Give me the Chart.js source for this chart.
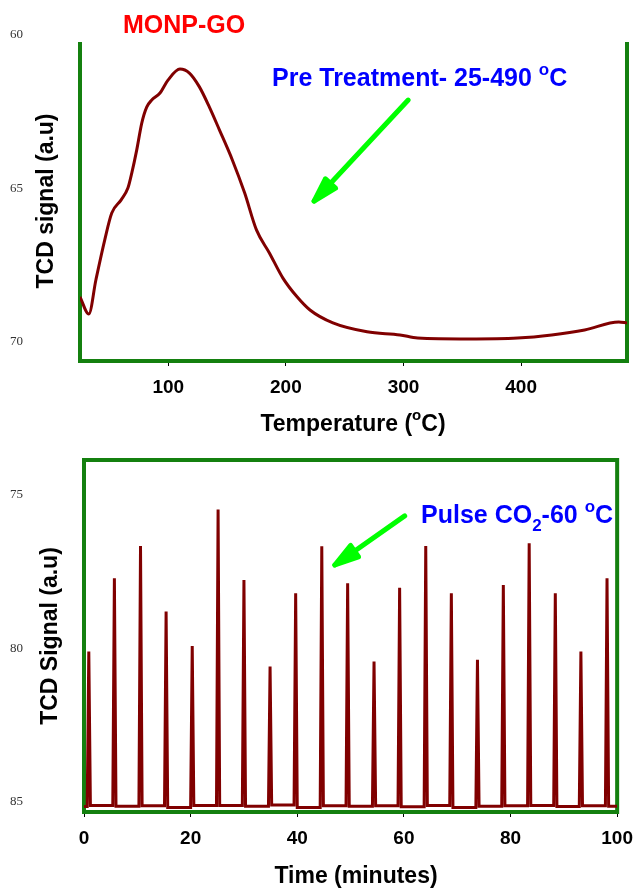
<!DOCTYPE html>
<html>
<head>
<meta charset="utf-8">
<script src="https://cdn.jsdelivr.net/npm/chart.js@4.4.0/dist/chart.umd.min.js"></script>
<style>
	html, body { margin: 0; padding: 0; background: #fff; }
	#wrap { position: relative; width: 643px; height: 889px; }
	canvas { position: absolute; left: 0; }
</style>
</head>
<body>
<div id="wrap">
	<canvas id="tpr" width="643" height="440" style="top:0"></canvas>
	<canvas id="pulse" width="643" height="449" style="top:440px"></canvas>
</div>
<script>
// --- top panel: pre treatment TCD trace ---
const tempC = [25, 32.5, 38.5, 46, 52, 60, 65.8, 69, 73.2, 77.5, 81.7, 86, 93, 99.8, 110,
	118, 126.5, 135, 143.5, 154.5, 165, 175, 186, 197.5, 209.5, 220.5, 240, 269, 297,
	312, 355, 397, 426, 454, 483, 490];
const tcdTpr = [68.53, 69.09, 67.98, 66.68, 65.80, 65.37, 64.98, 64.50, 63.75, 62.87, 62.35, 62.12, 61.89, 61.47, 61.11,
	61.24, 61.69, 62.35, 63.09, 64.07, 65.15, 66.35, 67.10, 67.92, 68.53, 68.96, 69.38, 69.67, 69.77,
	69.87, 69.90, 69.87, 69.77, 69.61, 69.35, 69.38];
const tempTicks = [100, 200, 300, 400];
const tprTicks = [60, 65, 70];

// --- bottom panel: CO2 pulses ---
const pulseTimes = [0.9, 5.7, 10.6, 15.4, 20.3, 25.15, 30.0, 34.9, 39.7, 44.6, 49.45,
	54.4, 59.2, 64.1, 68.9, 73.8, 78.65, 83.5, 88.4, 93.2, 98.1];
const pulsePeaks = [80.10, 77.71, 76.66, 78.80, 79.92, 75.47, 77.77, 80.59, 78.20, 76.67, 77.88,
	80.43, 78.02, 76.66, 78.20, 80.37, 77.93, 76.57, 78.20, 80.10, 77.71];
const baseLevels = [85.15, 85.12, 85.14, 85.13, 85.18, 85.12, 85.12, 85.14, 85.10, 85.18, 85.13,
	85.14, 85.13, 85.16, 85.12, 85.18, 85.14, 85.13, 85.12, 85.15, 85.13, 85.14];
const pulseHalfWidth = 0.3;
const timeTicks = [0, 20, 40, 60, 80, 100];
const pulseTicks = [75, 80, 85];

const SANS = 'Arial, "Liberation Sans", sans-serif';
const frameGreen = '#14800f';
const traceRed = '#800000';

function richText(ctx, x, y, parts, size, color, align) {
	const main = `bold ${size}px ${SANS}`;
	const small = `bold ${Math.round(size * 0.66)}px ${SANS}`;
	const items = parts.map(p => typeof p === 'string'
		? {t: p, f: main, dy: 0}
		: {t: p.t, f: small, dy: p.sup ? -size * 0.46 : size * 0.33});
	ctx.save();
	ctx.fillStyle = color;
	ctx.textBaseline = 'alphabetic';
	ctx.textAlign = 'left';
	let w = 0;
	items.forEach(it => { ctx.font = it.f; it.w = ctx.measureText(it.t).width; w += it.w; });
	let cx = align === 'center' ? x - w / 2 : x;
	items.forEach(it => { ctx.font = it.f; ctx.fillText(it.t, cx, y + it.dy); cx += it.w; });
	ctx.restore();
}

function arrow(ctx, x0, y0, x1, y1) {
	const ang = Math.atan2(y0 - y1, x0 - x1);
	const len = 25, spread = 0.28;
	ctx.save();
	ctx.strokeStyle = '#00ff00';
	ctx.fillStyle = '#00ff00';
	ctx.lineWidth = 5;
	ctx.lineCap = 'round';
	ctx.lineJoin = 'round';
	ctx.beginPath();
	ctx.moveTo(x0, y0);
	ctx.lineTo(x1, y1);
	ctx.stroke();
	ctx.beginPath();
	ctx.moveTo(x1 + len * Math.cos(ang - spread), y1 + len * Math.sin(ang - spread));
	ctx.lineTo(x1, y1);
	ctx.lineTo(x1 + len * Math.cos(ang + spread), y1 + len * Math.sin(ang + spread));
	ctx.closePath();
	ctx.fill();
	ctx.stroke();
	ctx.restore();
}

const framePlugin = {
	id: 'frame',
	beforeDatasetsDraw(chart, args, opts) {
		const {ctx, chartArea: a} = chart;
		const top = a.top + (opts.gap || 0);
		ctx.save();
		ctx.strokeStyle = frameGreen;
		ctx.lineWidth = 4;
		ctx.beginPath();
		if (opts.closed) {
			ctx.rect(a.left, top, a.right - a.left, a.bottom - top);
		} else {
			ctx.moveTo(a.left, top);
			ctx.lineTo(a.left, a.bottom);
			ctx.lineTo(a.right, a.bottom);
			ctx.lineTo(a.right, top);
		}
		ctx.stroke();
		ctx.restore();
	}
};

const notesPlugin = {
	id: 'notes',
	afterDraw(chart, args, opts) {
		const {ctx, scales: {x, y}} = chart;
		(opts.texts || []).forEach(t => richText(ctx, t.x, t.y, t.parts, t.size, t.color, t.align));
		if (opts.yTitle) {
			ctx.save();
			ctx.translate(opts.yTitle.x, opts.yTitle.y);
			ctx.rotate(-Math.PI / 2);
			richText(ctx, 0, 0, opts.yTitle.parts, 23, '#000', 'center');
			ctx.restore();
		}
		if (opts.arrow) {
			const [a, b] = opts.arrow;
			arrow(ctx, x.getPixelForValue(a[0]), y.getPixelForValue(a[1]),
				x.getPixelForValue(b[0]), y.getPixelForValue(b[1]));
		}
	}
};

function xScale(min, max, tickValues, height) {
	return {
		type: 'linear', min, max,
		afterBuildTicks: s => { s.ticks = tickValues.map(v => ({value: v})); },
		afterFit: s => { s.height = height; },
		grid: {drawOnChartArea: false, drawTicks: true, tickLength: 5, color: '#000', lineWidth: 1},
		border: {display: false},
		ticks: {color: '#000', padding: 10, maxRotation: 0, font: {family: SANS, size: 19, weight: 'bold'}}
	};
}

// tick labels sit at the far left edge of the axis box, the title is drawn between them and the frame
function yScale(min, max, tickValues, width) {
	return {
		type: 'linear', min, max, reverse: true,
		afterBuildTicks: s => { s.ticks = tickValues.map(v => ({value: v})); },
		afterFit: s => { s.width = width; },
		grid: {display: false, drawTicks: false},
		border: {display: false},
		ticks: {color: '#333', padding: 0, crossAlign: 'far', font: {family: '"Liberation Serif", "Times New Roman", serif', size: 13}}
	};
}

// top chart
new Chart(document.getElementById('tpr'), {
	type: 'line',
	data: {
		datasets: [{
			data: tempC.map((t, i) => ({x: t, y: tcdTpr[i]})),
			borderColor: traceRed,
			borderWidth: 3,
			pointRadius: 0,
			cubicInterpolationMode: 'monotone'
		}]
	},
	options: {
		responsive: false,
		animation: false,
		layout: {padding: {top: 35, right: 16, left: 10, bottom: 0}},
		plugins: {
			legend: {display: false},
			tooltip: {enabled: false},
			frame: {closed: false, gap: 7},
			notes: {
				texts: [
					{x: 123, y: 33, parts: ['MONP-GO'], size: 25, color: '#ff0000'},
					{x: 272, y: 86, parts: ['Pre Treatment- 25-490 ', {t: 'o', sup: true}, 'C'], size: 25, color: '#0000ff'},
					{x: 353, y: 431, parts: ['Temperature (', {t: 'o', sup: true}, 'C)'], size: 23, color: '#000', align: 'center'}
				],
				yTitle: {x: 53, y: 201, parts: ['TCD signal (a.u)']},
				arrow: [[304, 62.12], [224, 65.41]]
			}
		},
		scales: {
			x: xScale(25, 490, tempTicks, 79),
			y: yScale(60, 70.62, tprTicks, 70)
		}
	},
	plugins: [framePlugin, notesPlugin]
});

// bottom chart: each pulse is baseline -> peak -> baseline
const pulseLine = [{x: 0, y: baseLevels[0]}];
pulseTimes.forEach((t, i) => {
	pulseLine.push({x: t - pulseHalfWidth, y: baseLevels[i]});
	pulseLine.push({x: t, y: pulsePeaks[i]});
	pulseLine.push({x: t + pulseHalfWidth, y: baseLevels[i + 1]});
});
pulseLine.push({x: 100, y: baseLevels[baseLevels.length - 1]});

new Chart(document.getElementById('pulse'), {
	type: 'line',
	data: {
		datasets: [{
			data: pulseLine,
			borderColor: traceRed,
			borderWidth: 3,
			pointRadius: 0,
			tension: 0
		}]
	},
	options: {
		responsive: false,
		animation: false,
		layout: {padding: {top: 20, right: 17, left: 10, bottom: 0}},
		plugins: {
			legend: {display: false},
			tooltip: {enabled: false},
			frame: {closed: true, gap: 0},
			notes: {
				texts: [
					{x: 421, y: 83, parts: ['Pulse CO', {t: '2', sub: true}, '-60 ', {t: 'o', sup: true}, 'C'], size: 25, color: '#0000ff'},
					{x: 356, y: 443, parts: ['Time (minutes)'], size: 23, color: '#000', align: 'center'}
				],
				yTitle: {x: 57, y: 196, parts: ['TCD Signal (a.u)']},
				arrow: [[60.15, 75.68], [47.05, 77.28]]
			}
		},
		scales: {
			x: xScale(0, 100, timeTicks, 77),
			y: yScale(73.86, 85.33, pulseTicks, 74)
		}
	},
	plugins: [framePlugin, notesPlugin]
});
</script>
</body>
</html>
